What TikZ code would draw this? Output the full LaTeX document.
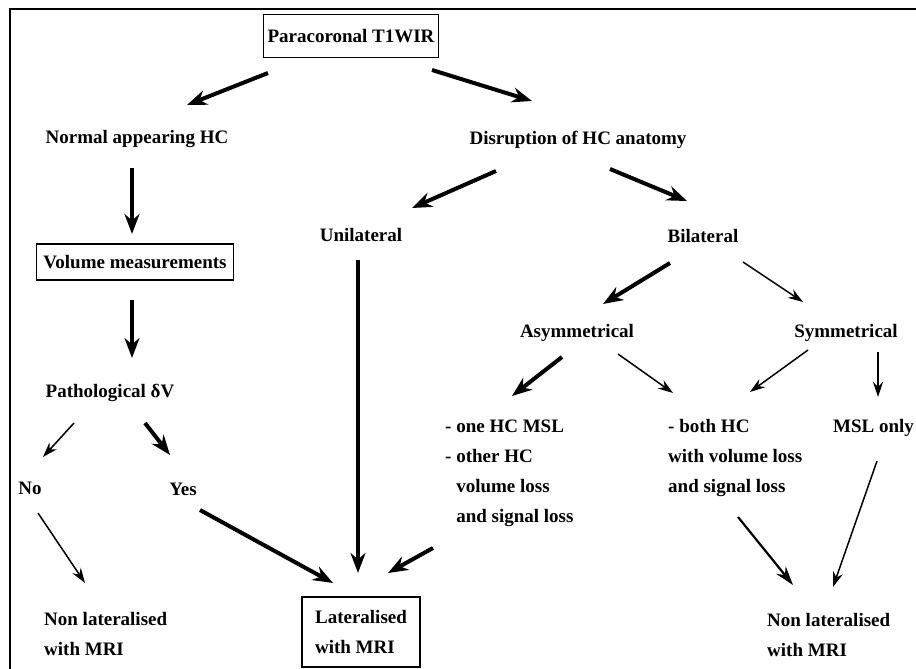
\documentclass[tikz,border=0pt]{standalone}
\usepackage{fontspec}
\setmainfont{Liberation Serif}
\usepackage{tikz}
\usetikzlibrary{arrows.meta}

\tikzset{
  every node/.style={font=\fontsize{19}{30}\selectfont\bfseries, inner sep=0pt},
  box/.style={draw, line width=1.6pt, inner sep=4pt},
  big/.style={-{Stealth[length=20pt,width=15pt]}, line width=4pt},
  small/.style={-{Stealth[length=15pt,width=10pt]}, line width=1.5pt},
  mid/.style={-{Stealth[length=19pt,width=12pt]}, line width=2.2pt}
}

\begin{document}
\begin{tikzpicture}[x=1pt,y=-1pt]
  \useasboundingbox (0,0) rectangle (916,669);
  \clip (0,0) rectangle (916,669);
  % frame, cut at right and bottom
  \draw[line width=2pt] (10,669) -- (10,9) -- (916,9);

  \draw (351,36) node[box, minimum width=175pt, minimum height=43pt] (para) {Paracoronal T1WIR};
  \draw (137,139) node (normal) {Normal appearing HC};
  \draw (578,140) node (disr) {Disruption of HC anatomy};
  \draw (135,262) node[box, minimum width=197pt, minimum height=36pt] (vol) {Volume measurements};
  \draw (361,235) node (unil) {Unilateral};
  \draw (703,236) node (bil) {Bilateral};
  \draw (110,393) node (patho) {Pathological δV};
  \draw (577,333) node (asym) {Asymmetrical};
  \draw (846,333) node (sym) {Symmetrical};
  \draw (30,488) node (no) {No};
  \draw (183,489) node (yes) {Yes};
  \draw (445,473) node[anchor=west, align=left] (onehc)
    {- one HC MSL\\- other HC\\\phantom{- }volume loss\\\phantom{- }and signal loss};
  \draw (668,458) node[anchor=west, align=left] (bothhc)
    {- both HC\\with volume loss\\and signal loss};
  \draw (833,428) node[anchor=west] (msl) {MSL only};
  \draw (44,634) node[anchor=west, align=left] (nonl) {Non lateralised\\with MRI};
  \draw (361,632) node[box, align=left, minimum width=118pt, minimum height=70pt] (lat) {Lateralised\\with MRI};
  \draw (767,635) node[anchor=west, align=left] (nonr) {Non lateralised\\with MRI};

  \path[big] ([shift={(-83,37)}]para.center) edge ([shift={(50,-34)}]normal.center);
  \path[big] ([shift={(81,34)}]para.center) edge ([shift={(-46,-39)}]disr.center);
  \path[big] ([shift={(-5,29)}]normal.center) edge ([shift={(-3,-28)}]vol.center);
  \path[big] ([shift={(-3,38)}]vol.center) edge ([shift={(22,-35)}]patho.center);
  \path[small] ([shift={(-36,30)}]patho.center) edge ([shift={(13,-31)}]no.center);
  \path[big] ([shift={(35,30)}]patho.center) edge ([shift={(-13,-34)}]yes.center);
  \path[small] ([shift={(8,25)}]no.center) edge ([shift={(41,-51)}]nonl.west);
  \path[big] ([shift={(17,21)}]yes.center) edge ([shift={(-28,-49)}]lat.center);
  \path[big] ([shift={(-82,31)}]disr.center) edge ([shift={(51,-27)}]unil.center);
  \path[big] ([shift={(-3,25)}]unil.center) edge ([shift={(-3,-59)}]lat.center);
  \path[big] ([shift={(32,29)}]disr.center) edge ([shift={(-16,-35)}]bil.center);
  \path[big] ([shift={(-33,27)}]bil.center) edge ([shift={(26,-29)}]asym.center);
  \path[small] ([shift={(40,26)}]bil.center) edge ([shift={(-43,-31)}]sym.center);
  \path[big] ([shift={(-15,24)}]asym.center) edge ([shift={(67,-77)}]onehc.west);
  \path[small] ([shift={(41,21)}]asym.center) edge ([shift={(5,-65)}]bothhc.west);
  \path[small] ([shift={(-38,17)}]sym.center) edge ([shift={(82,-66)}]bothhc.west);
  \path[small] ([shift={(32,19)}]sym.center) edge ([shift={(45,-31)}]msl.west);
  \path[big] ([shift={(-12,75)}]onehc.west) edge ([shift={(27,-59)}]lat.center);
  \path[mid] ([shift={(70,59)}]bothhc.west) edge ([shift={(26,-50)}]nonr.west);
  \path[small] ([shift={(44,33)}]msl.west) edge ([shift={(66,-48)}]nonr.west);
\end{tikzpicture}
\end{document}
